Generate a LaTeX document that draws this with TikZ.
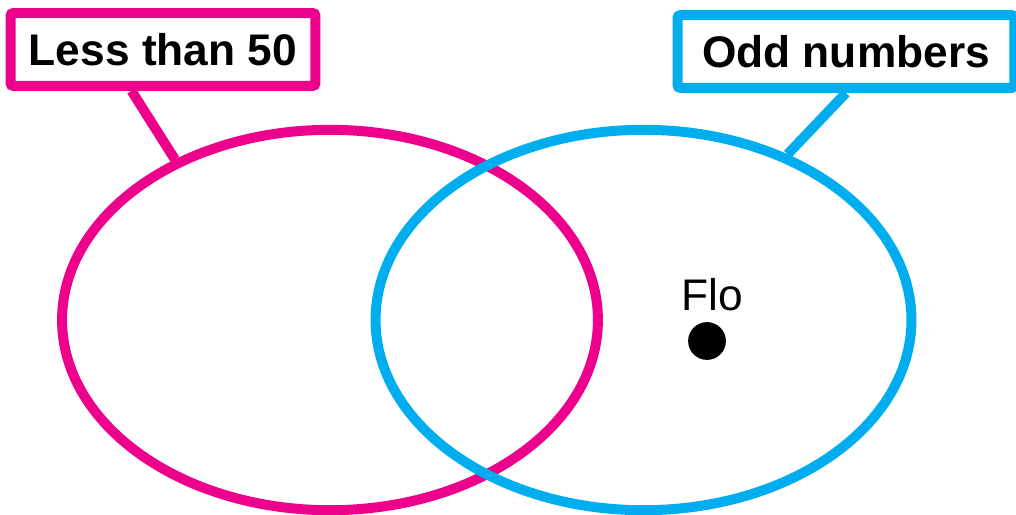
\documentclass[tikz,border=0pt]{standalone}
\usepackage{fontspec}
\setmainfont{Liberation Sans}
\usetikzlibrary{shapes.geometric, calc}
\definecolor{setpink}{HTML}{EC008C}
\definecolor{setblue}{HTML}{00AEEF}

\begin{document}
\begin{tikzpicture}[x=0.02cm, y=-0.02cm, line width=5.67pt,
  setlabel/.style={draw, rounded corners=1.5pt, fill=white, text=black, inner sep=0pt,
    minimum height=41.4pt, font=\fontsize{25.2}{30}\selectfont\bfseries},
  venn/.style={ellipse, draw, inner sep=0pt, minimum width=305pt, minimum height=216.5pt}]
  \useasboundingbox (0,0) rectangle (1016,514);
  % the two sets
  \node[venn, draw=setpink] (lessset) at (330,320) {};
  \node[venn, draw=setblue] (oddset) at (643.5,320) {};
  % their labels
  \node[setlabel, draw=setpink, minimum width=173.5pt] (less) at (163,49.5) {Less than 50};
  \node[setlabel, draw=setblue, minimum width=191.7pt] (odd) at (846,51.5) {Odd numbers};
  \draw[setpink] ($(less.south west)!0.4!(less.south east)$) -- (lessset.134);
  \draw[setblue] (odd.south) -- (oddset.49);
  % the element
  \node[circle, fill, inner sep=0pt, minimum size=21.5pt] (flodot) at (707,341) {};
  \node[font=\fontsize{25.2}{30}\selectfont] (flo) at (712,295) {Flo};
\end{tikzpicture}
\end{document}
